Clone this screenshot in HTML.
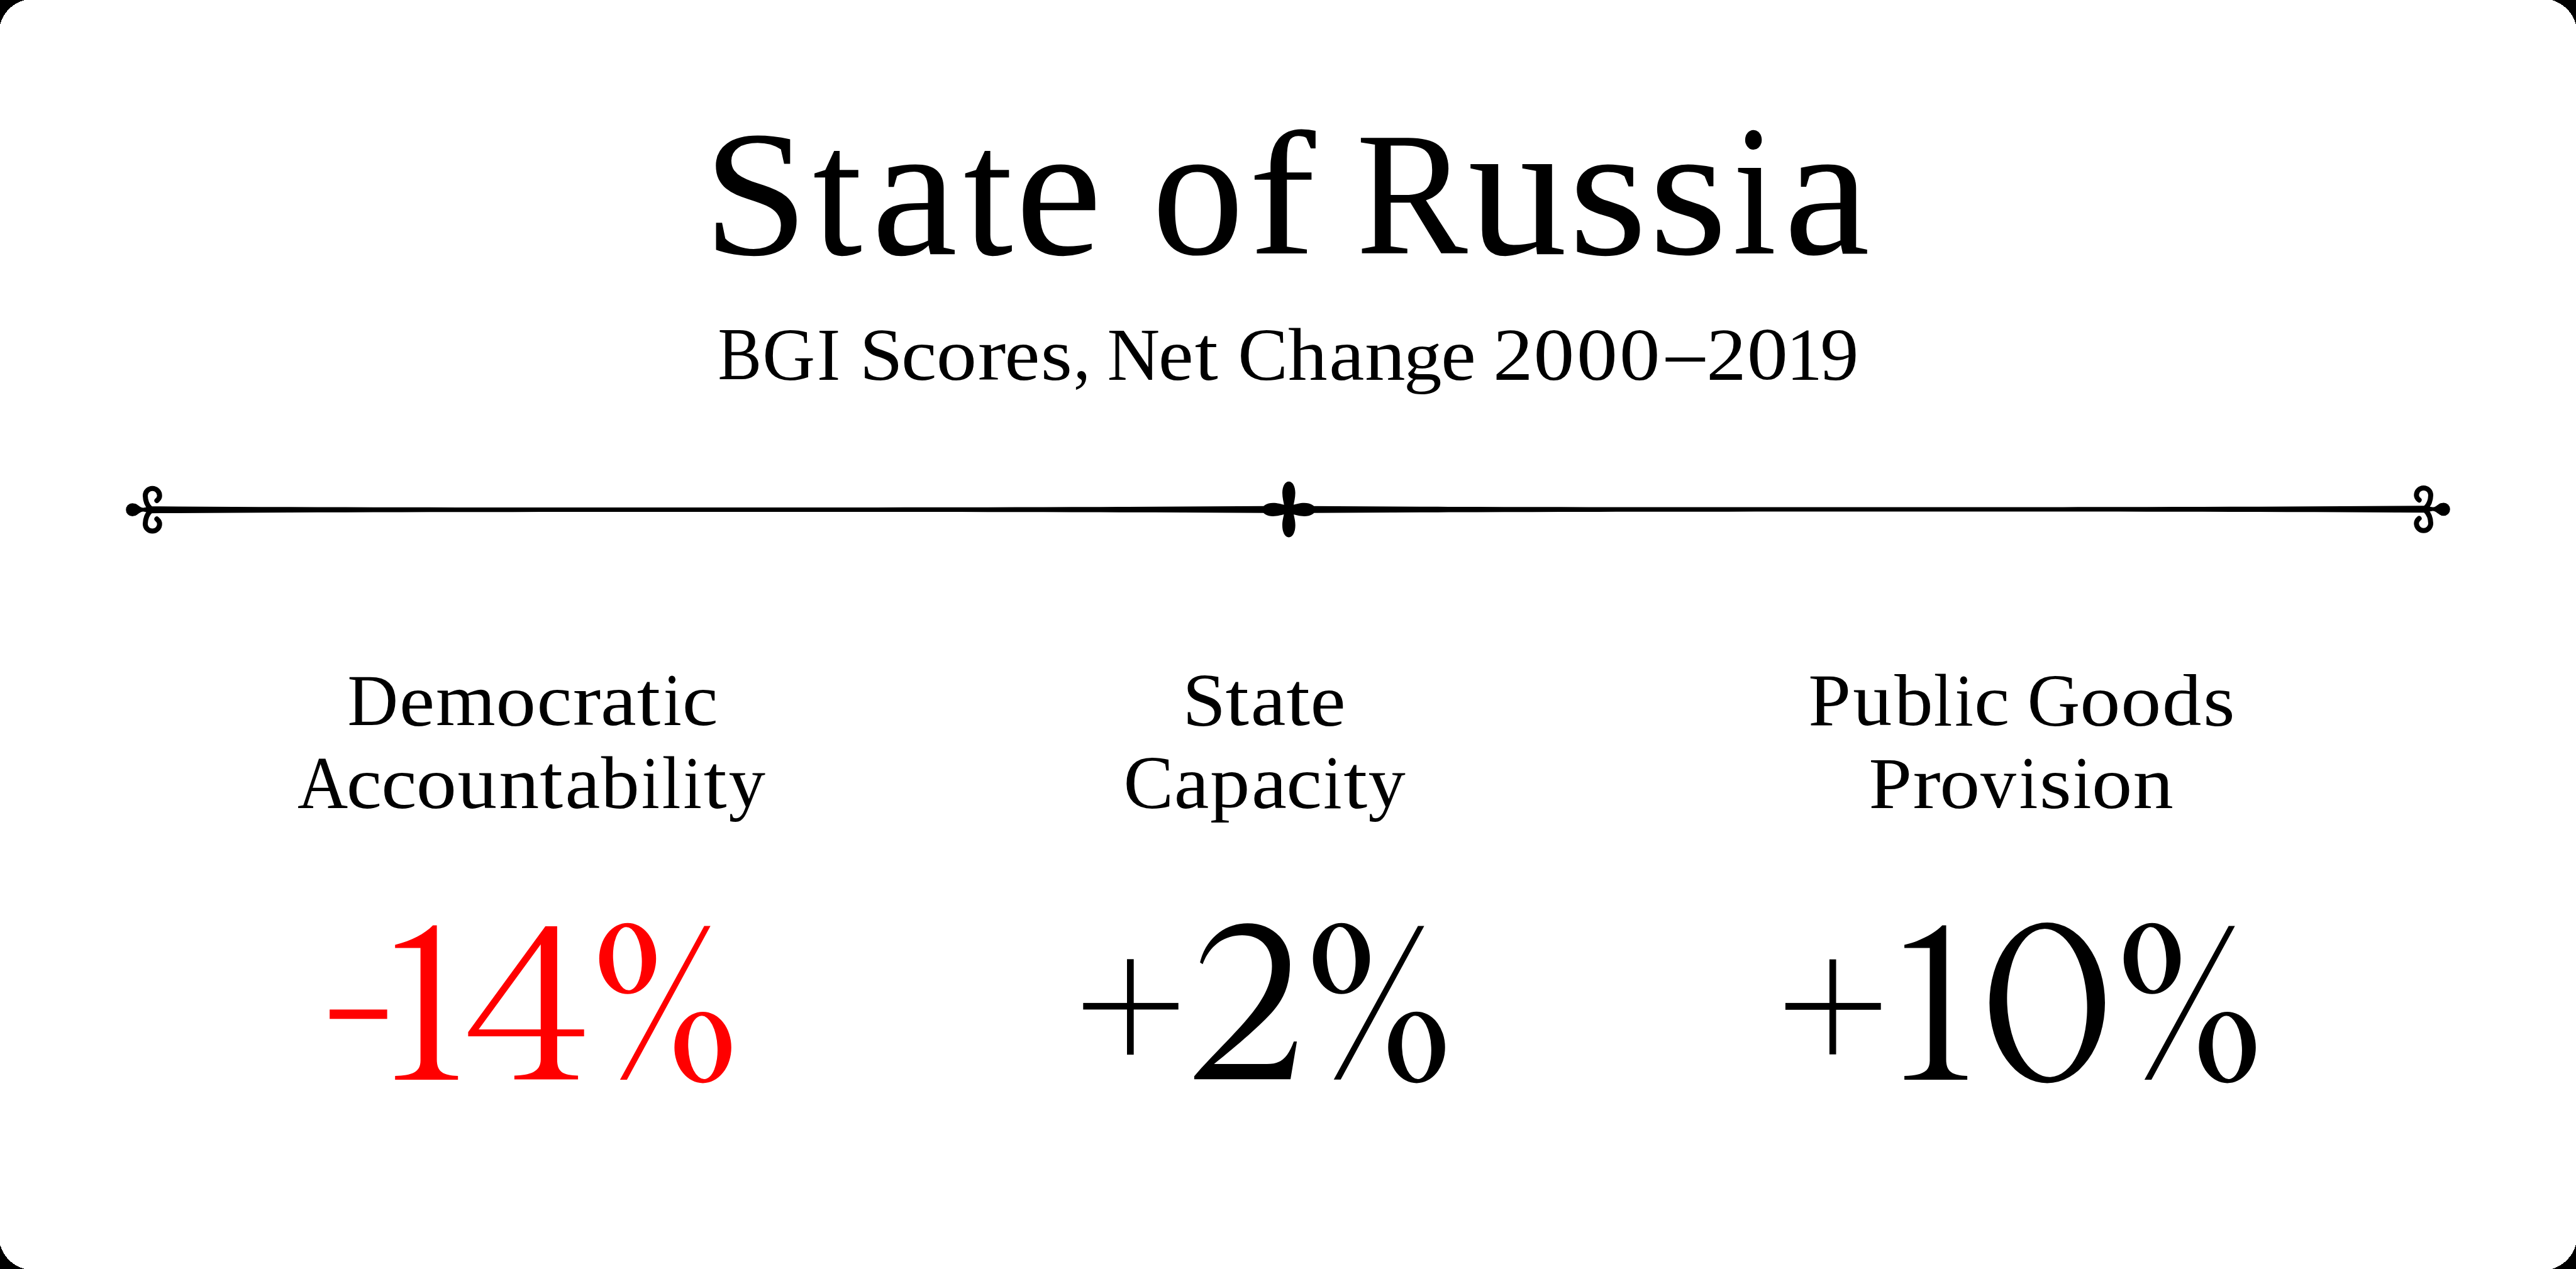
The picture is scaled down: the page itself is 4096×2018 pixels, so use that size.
<!DOCTYPE html>
<html><head><meta charset="utf-8">
<style>
html,body{margin:0;padding:0;width:4096px;height:2018px;overflow:hidden;background:#000;}
svg{display:block;}
text{font-family:"Liberation Serif",serif;white-space:pre;}
</style></head>
<body>
<svg width="4096" height="2018" viewBox="0 0 4096 2018">
<path fill="#fff" shape-rendering="crispEdges" d="M39 0 L4057 0 A55.4 55.4 0 0 1 4096 39 L4096 1979 A55.4 55.4 0 0 1 4057 2018 L39 2018 A55.4 55.4 0 0 1 0 1979 L0 39 A55.4 55.4 0 0 1 39 0 Z"/>

<text transform="translate(1141.61 603.46) scale(0.88232 0.99895)" font-size="118" fill="#000">B</text>
<text transform="translate(1212.26 603.94) scale(0.98345 1.01336)" font-size="118" fill="#000">G</text>
<text transform="translate(1298.97 603.80) scale(0.94953 1.00342)" font-size="118" fill="#000">I</text>
<text transform="translate(1366.63 603.94) scale(1.05176 1.01336)" font-size="118" fill="#000">S</text>
<text transform="translate(1432.99 603.64) scale(1.07574 1.00686)" font-size="118" fill="#000">c</text>
<text transform="translate(1488.72 604.04) scale(1.09037 1.01217)" font-size="118" fill="#000">o</text>
<text transform="translate(1554.63 603.40) scale(1.13587 1.00063)" font-size="118" fill="#000">r</text>
<text transform="translate(1597.60 604.04) scale(1.06694 1.01217)" font-size="118" fill="#000">e</text>
<text transform="translate(1654.72 604.04) scale(1.09652 1.01217)" font-size="118" fill="#000">s</text>
<text transform="translate(1706.78 601.83) scale(0.92006 0.97753)" font-size="118" fill="#000">,</text>
<text transform="translate(1760.57 604.30) scale(0.98257 1.00991)" font-size="118" fill="#000">N</text>
<text transform="translate(1841.70 604.04) scale(1.06694 1.01217)" font-size="118" fill="#000">e</text>
<text transform="translate(1899.80 604.01) scale(1.12953 1.03568)" font-size="118" fill="#000">t</text>
<text transform="translate(1968.32 603.94) scale(1.01239 1.01336)" font-size="118" fill="#000">C</text>
<text transform="translate(2048.08 603.80) scale(1.06149 1.00335)" font-size="118" fill="#000">h</text>
<text transform="translate(2113.18 603.64) scale(1.07078 1.01096)" font-size="118" fill="#000">a</text>
<text transform="translate(2170.04 603.80) scale(1.09627 1.00966)" font-size="118" fill="#000">n</text>
<text transform="translate(2232.02 603.65) scale(1.02597 0.92461)" font-size="118" fill="#000">g</text>
<text transform="translate(2291.33 603.64) scale(1.06004 1.00686)" font-size="118" fill="#000">e</text>
<text transform="translate(2373.93 603.50) scale(1.07848 1.00260)" font-size="118" fill="#000">2</text>
<text transform="translate(2438.48 603.75) scale(1.09840 1.00139)" font-size="118" fill="#000">0</text>
<text transform="translate(2506.88 603.75) scale(1.10041 1.00139)" font-size="118" fill="#000">0</text>
<text transform="translate(2575.00 603.75) scale(1.09438 1.00139)" font-size="118" fill="#000">0</text>
<text transform="translate(2649.13 601.53) scale(1.03551 1.09363)" font-size="118" fill="#000">–</text>
<text transform="translate(2713.34 603.60) scale(1.07636 1.00903)" font-size="118" fill="#000">2</text>
<text transform="translate(2777.76 603.45) scale(1.10442 1.00265)" font-size="118" fill="#000">0</text>
<text transform="translate(2840.46 603.60) scale(0.97181 1.00170)" font-size="118" fill="#000">1</text>
<text transform="translate(2894.37 603.64) scale(1.03701 1.00956)" font-size="118" fill="#000">9</text>
<text transform="translate(552.50 1152.97) scale(0.94574 0.99266)" font-size="118" fill="#000">D</text>
<text transform="translate(634.98 1153.55) scale(1.07154 0.99978)" font-size="118" fill="#000">e</text>
<text transform="translate(693.05 1153.20) scale(1.03224 0.99702)" font-size="118" fill="#000">m</text>
<text transform="translate(788.38 1153.64) scale(1.07631 1.01217)" font-size="118" fill="#000">o</text>
<text transform="translate(853.53 1153.34) scale(1.06667 1.00686)" font-size="118" fill="#000">c</text>
<text transform="translate(910.63 1153.10) scale(1.13308 0.99341)" font-size="118" fill="#000">r</text>
<text transform="translate(955.02 1153.34) scale(1.08371 1.01096)" font-size="118" fill="#000">a</text>
<text transform="translate(1012.79 1153.32) scale(1.14251 1.03123)" font-size="118" fill="#000">t</text>
<text transform="translate(1054.72 1153.10) scale(0.88402 1.01160)" font-size="118" fill="#000">i</text>
<text transform="translate(1084.64 1153.34) scale(1.08709 1.00686)" font-size="118" fill="#000">c</text>
<text transform="translate(473.02 1284.80) scale(0.94150 1.00556)" font-size="118" fill="#000">A</text>
<text transform="translate(550.70 1284.95) scale(1.07348 1.00155)" font-size="118" fill="#000">c</text>
<text transform="translate(606.29 1284.95) scale(1.07574 1.00155)" font-size="118" fill="#000">c</text>
<text transform="translate(661.83 1284.95) scale(1.08836 1.00155)" font-size="118" fill="#000">o</text>
<text transform="translate(727.56 1284.63) scale(1.06173 1.02218)" font-size="118" fill="#000">u</text>
<text transform="translate(793.17 1284.70) scale(1.08522 1.00244)" font-size="118" fill="#000">n</text>
<text transform="translate(858.31 1285.22) scale(1.12628 1.03271)" font-size="118" fill="#000">t</text>
<text transform="translate(898.49 1285.23) scale(1.06647 1.01629)" font-size="118" fill="#000">a</text>
<text transform="translate(955.80 1285.25) scale(1.03178 1.00636)" font-size="118" fill="#000">b</text>
<text transform="translate(1019.93 1284.70) scale(0.88044 1.01031)" font-size="118" fill="#000">i</text>
<text transform="translate(1052.77 1284.70) scale(0.90549 0.99967)" font-size="118" fill="#000">l</text>
<text transform="translate(1086.48 1284.70) scale(0.89833 1.01031)" font-size="118" fill="#000">i</text>
<text transform="translate(1118.81 1285.22) scale(1.12628 1.03271)" font-size="118" fill="#000">t</text>
<text transform="translate(1158.48 1283.41) scale(0.99197 0.97365)" font-size="118" fill="#000">y</text>
<text transform="translate(1880.25 1153.83) scale(1.04977 1.01589)" font-size="118" fill="#000">S</text>
<text transform="translate(1948.39 1153.32) scale(1.14251 1.03123)" font-size="118" fill="#000">t</text>
<text transform="translate(1988.81 1153.35) scale(1.06216 1.00563)" font-size="118" fill="#000">a</text>
<text transform="translate(2045.28 1153.32) scale(1.15225 1.03123)" font-size="118" fill="#000">t</text>
<text transform="translate(2083.38 1153.55) scale(1.07154 1.00509)" font-size="118" fill="#000">e</text>
<text transform="translate(1786.43 1285.23) scale(1.01090 1.01716)" font-size="118" fill="#000">C</text>
<text transform="translate(1866.71 1284.93) scale(1.06216 1.01629)" font-size="118" fill="#000">a</text>
<text transform="translate(1924.06 1283.31) scale(1.07525 0.98284)" font-size="118" fill="#000">p</text>
<text transform="translate(1989.89 1284.93) scale(1.06862 1.01629)" font-size="118" fill="#000">a</text>
<text transform="translate(2045.36 1285.23) scale(1.08255 1.01747)" font-size="118" fill="#000">c</text>
<text transform="translate(2104.19 1285.20) scale(0.89475 1.01674)" font-size="118" fill="#000">i</text>
<text transform="translate(2136.37 1284.92) scale(1.15874 1.02974)" font-size="118" fill="#000">t</text>
<text transform="translate(2175.56 1283.11) scale(1.00428 0.97743)" font-size="118" fill="#000">y</text>
<text transform="translate(2875.20 1153.50) scale(1.03391 0.99822)" font-size="118" fill="#000">P</text>
<text transform="translate(2946.27 1153.03) scale(1.05267 1.02037)" font-size="118" fill="#000">u</text>
<text transform="translate(3012.20 1153.06) scale(1.03915 0.99184)" font-size="118" fill="#000">b</text>
<text transform="translate(3074.78 1153.50) scale(0.90191 0.99721)" font-size="118" fill="#000">l</text>
<text transform="translate(3108.37 1153.50) scale(0.90191 1.01288)" font-size="118" fill="#000">i</text>
<text transform="translate(3139.09 1153.06) scale(1.07574 0.99447)" font-size="118" fill="#000">c</text>
<text transform="translate(3223.45 1153.64) scale(0.98476 1.01336)" font-size="118" fill="#000">G</text>
<text transform="translate(3307.23 1153.65) scale(1.08836 1.00509)" font-size="118" fill="#000">o</text>
<text transform="translate(3372.24 1153.65) scale(1.08635 1.00509)" font-size="118" fill="#000">o</text>
<text transform="translate(3437.91 1153.26) scale(1.05709 0.99547)" font-size="118" fill="#000">d</text>
<text transform="translate(3503.08 1153.65) scale(1.10470 1.00509)" font-size="118" fill="#000">s</text>
<text transform="translate(2971.56 1284.70) scale(1.04439 0.99432)" font-size="118" fill="#000">P</text>
<text transform="translate(3041.55 1284.70) scale(1.12468 0.99702)" font-size="118" fill="#000">r</text>
<text transform="translate(3084.35 1284.66) scale(1.08434 0.99624)" font-size="118" fill="#000">o</text>
<text transform="translate(3149.00 1284.17) scale(0.96511 0.98769)" font-size="118" fill="#000">v</text>
<text transform="translate(3210.87 1284.70) scale(0.90191 1.00774)" font-size="118" fill="#000">i</text>
<text transform="translate(3242.64 1284.66) scale(1.11289 0.99624)" font-size="118" fill="#000">s</text>
<text transform="translate(3295.89 1284.70) scale(0.89475 1.00774)" font-size="118" fill="#000">i</text>
<text transform="translate(3326.02 1284.66) scale(1.09037 0.99624)" font-size="118" fill="#000">o</text>
<text transform="translate(3391.56 1284.70) scale(1.09074 0.99702)" font-size="118" fill="#000">n</text>
<text transform="translate(1118.21 404.42) scale(1.03908 0.98675)" font-size="289" fill="#000">S</text>
<text transform="translate(1292.34 404.35) scale(0.97918 1.01072)" font-size="289" fill="#000">t</text>
<text transform="translate(1385.90 404.23) scale(1.06254 1.05178)" font-size="289" fill="#000">a</text>
<text transform="translate(1531.94 404.35) scale(0.97918 1.01072)" font-size="289" fill="#000">t</text>
<text transform="translate(1614.48 404.24) scale(1.07326 1.04751)" font-size="289" fill="#000">e</text>
<text transform="translate(1831.55 403.66) scale(1.01317 1.04319)" font-size="289" fill="#000">o</text>
<text transform="translate(1985.04 402.90) scale(1.10934 0.97059)" font-size="289" fill="#000">f</text>
<text transform="translate(2156.23 402.70) scale(0.92114 0.96918)" font-size="289" fill="#000">R</text>
<text transform="translate(2334.05 404.15) scale(1.08949 1.07922)" font-size="289" fill="#000">u</text>
<text transform="translate(2494.13 404.24) scale(1.11122 1.04751)" font-size="289" fill="#000">s</text>
<text transform="translate(2621.73 403.56) scale(1.11122 1.04247)" font-size="289" fill="#000">s</text>
<text transform="translate(2755.16 402.90) scale(0.86289 1.02535)" font-size="289" fill="#000">i</text>
<text transform="translate(2836.60 403.55) scale(1.06341 1.04672)" font-size="289" fill="#000">a</text>
<rect x="524.2" y="1605.4" width="91.4" height="14.9" fill="#ff0000"/>
<path fill="#ff0000" d="M 688.40 1471.60 L 694.60 1471.60 L 694.60 1684.50 C 694.60 1705.00 705.10 1710.00 728.20 1711.00 L 728.20 1717.00 L 628.20 1717.00 L 628.20 1711.00 C 655.10 1710.00 668.60 1705.00 668.60 1686.70 L 668.60 1507.50 L 628.20 1507.50 L 628.20 1502.40 C 655.10 1496.00 675.10 1485.00 688.40 1471.60 Z"/>
<path fill="#ff0000" fill-rule="evenodd" d="M 867.20 1472.90 L 885.90 1472.90 L 885.90 1637.00 L 928.70 1637.00 L 928.70 1647.90 L 885.90 1647.90 L 885.90 1684.40 C 885.90 1705.00 895.00 1709.50 919.10 1710.50 L 919.10 1716.40 L 817.90 1716.40 L 817.90 1710.50 C 842.00 1709.50 859.80 1705.00 859.80 1684.40 L 859.80 1647.90 L 744.40 1647.90 L 744.40 1641.20 Z M 859.80 1501.80 L 859.80 1637.00 L 761.10 1637.00 Z"/>
<path fill="#ff0000" fill-rule="evenodd" d="M952.80 1524.30 A45.2 56.5 0 1 0 1043.20 1524.30 A45.2 56.5 0 1 0 952.80 1524.30ZM974.93 1525.61 A22.8 49.6 -2.8 1 1 1020.47 1523.39 A22.8 49.6 -2.8 1 1 974.93 1525.61ZM1072.40 1665.70 A45.2 56.7 0 1 0 1162.80 1665.70 A45.2 56.7 0 1 0 1072.40 1665.70ZM1094.43 1666.83 A23.2 49.65 -2.8 1 1 1140.77 1664.57 A23.2 49.65 -2.8 1 1 1094.43 1666.83ZM1119.80 1472.60 L1129.70 1472.60 L996.90 1716.90 L985.90 1716.90Z"/>
<rect x="1722.3" y="1594.9" width="151.4" height="10.5"/><rect x="1792" y="1525.3" width="10.7" height="151.9"/>
<path d="M 1908.10 1530.50 C 1918.00 1490.00 1950.00 1468.20 1983.60 1468.20 C 2023.00 1468.20 2051.00 1495.00 2051.00 1533.70 C 2051.00 1565.00 2042.00 1587.00 2025.00 1607.00 C 2005.00 1630.00 1970.00 1660.00 1930.40 1692.10 L 2014.40 1692.10 C 2038.00 1692.10 2048.00 1681.00 2057.20 1656.20 L 2062.10 1656.20 L 2052.00 1716.30 L 1898.90 1716.30 L 1898.90 1711.50 C 1958.90 1642.50 2022.50 1596.20 2022.50 1536.20 C 2022.50 1507.00 2005.00 1487.30 1975.00 1487.30 C 1945.00 1487.30 1923.00 1505.00 1912.30 1533.20 Z"/>
<path fill-rule="evenodd" d="M2087.70 1524.20 A45.2 56.5 0 1 0 2178.10 1524.20 A45.2 56.5 0 1 0 2087.70 1524.20ZM2109.83 1525.51 A22.8 49.6 -2.8 1 1 2155.37 1523.29 A22.8 49.6 -2.8 1 1 2109.83 1525.51ZM2207.30 1665.60 A45.2 56.7 0 1 0 2297.70 1665.60 A45.2 56.7 0 1 0 2207.30 1665.60ZM2229.33 1666.73 A23.2 49.65 -2.8 1 1 2275.67 1664.47 A23.2 49.65 -2.8 1 1 2229.33 1666.73ZM2254.70 1472.50 L2264.60 1472.50 L2131.80 1716.80 L2120.80 1716.80Z"/>
<rect x="2838.9" y="1594.9" width="151.8" height="10.9"/><rect x="2908.9" y="1525.6" width="10.6" height="151.1"/>
<path d="M 3088.30 1471.60 L 3094.50 1471.60 L 3094.50 1684.50 C 3094.50 1705.00 3105.00 1710.00 3128.10 1711.00 L 3128.10 1717.00 L 3028.10 1717.00 L 3028.10 1711.00 C 3055.00 1710.00 3068.50 1705.00 3068.50 1686.70 L 3068.50 1507.50 L 3028.10 1507.50 L 3028.10 1502.40 C 3055.00 1496.00 3075.00 1485.00 3088.30 1471.60 Z"/>
<path fill-rule="evenodd" d="M3163.40 1594.80 A91.8 127.7 0 1 0 3347.00 1594.80 A91.8 127.7 0 1 0 3163.40 1594.80ZM3191.57 1597.89 A63.5 117.9 -2.7 1 1 3318.43 1591.91 A63.5 117.9 -2.7 1 1 3191.57 1597.89Z"/>
<path fill-rule="evenodd" d="M3376.80 1524.30 A45.2 56.5 0 1 0 3467.20 1524.30 A45.2 56.5 0 1 0 3376.80 1524.30ZM3398.93 1525.61 A22.8 49.6 -2.8 1 1 3444.47 1523.39 A22.8 49.6 -2.8 1 1 3398.93 1525.61ZM3496.40 1665.70 A45.2 56.7 0 1 0 3586.80 1665.70 A45.2 56.7 0 1 0 3496.40 1665.70ZM3518.43 1666.83 A23.2 49.65 -2.8 1 1 3564.77 1664.57 A23.2 49.65 -2.8 1 1 3518.43 1666.83ZM3543.80 1472.60 L3553.70 1472.60 L3420.90 1716.90 L3409.90 1716.90Z"/>
<g fill="#000">
<path d="M238.0 805.20 L282.4 805.48 L326.9 805.72 L371.3 805.94 L415.7 806.14 L460.1 806.31 L504.6 806.45 L549.0 806.58 L593.4 806.69 L637.8 806.78 L682.2 806.85 L726.7 806.91 L771.1 806.95 L815.5 806.98 L860.0 807.01 L904.4 807.02 L948.8 807.02 L993.2 807.02 L1037.7 807.02 L1082.1 807.01 L1126.5 807.00 L1170.9 806.99 L1215.3 806.98 L1259.8 806.96 L1304.2 806.94 L1348.6 806.92 L1393.0 806.89 L1437.5 806.84 L1481.9 806.79 L1526.3 806.73 L1570.8 806.65 L1615.2 806.56 L1659.6 806.45 L1704.0 806.32 L1748.5 806.17 L1792.9 806.01 L1837.3 805.82 L1881.7 805.60 L1926.2 805.36 L1970.6 805.10 L2015.0 804.80 L2015.0 815.80 L1970.6 815.52 L1926.2 815.28 L1881.7 815.06 L1837.3 814.86 L1792.9 814.69 L1748.5 814.55 L1704.0 814.42 L1659.6 814.31 L1615.2 814.22 L1570.8 814.15 L1526.3 814.09 L1481.9 814.05 L1437.5 814.02 L1393.0 813.99 L1348.6 813.98 L1304.2 813.98 L1259.8 813.98 L1215.3 813.98 L1170.9 813.99 L1126.5 814.00 L1082.1 814.01 L1037.7 814.02 L993.2 814.04 L948.8 814.06 L904.4 814.08 L860.0 814.11 L815.5 814.16 L771.1 814.21 L726.7 814.27 L682.2 814.35 L637.8 814.44 L593.4 814.55 L549.0 814.68 L504.6 814.83 L460.1 814.99 L415.7 815.18 L371.3 815.40 L326.9 815.64 L282.4 815.90 L238.0 816.20Z"/>
<path d="M238.0 804.30 L282.4 804.60 L326.9 804.87 L371.3 805.11 L415.7 805.33 L460.1 805.52 L504.6 805.69 L549.0 805.84 L593.4 805.97 L637.8 806.08 L682.2 806.18 L726.7 806.26 L771.1 806.32 L815.5 806.38 L860.0 806.42 L904.4 806.46 L948.8 806.48 L993.2 806.51 L1037.7 806.52 L1082.1 806.54 L1126.5 806.55 L1170.9 806.56 L1215.3 806.57 L1259.8 806.58 L1304.2 806.58 L1348.6 806.58 L1393.0 806.57 L1437.5 806.55 L1481.9 806.52 L1526.3 806.48 L1570.8 806.42 L1615.2 806.35 L1659.6 806.27 L1704.0 806.16 L1748.5 806.04 L1792.9 805.89 L1837.3 805.73 L1881.7 805.53 L1926.2 805.32 L1970.6 805.07 L2015.0 804.80 L2015.0 815.80 L1970.6 815.50 L1926.2 815.23 L1881.7 814.99 L1837.3 814.77 L1792.9 814.58 L1748.5 814.41 L1704.0 814.26 L1659.6 814.13 L1615.2 814.02 L1570.8 813.92 L1526.3 813.84 L1481.9 813.78 L1437.5 813.72 L1393.0 813.68 L1348.6 813.64 L1304.2 813.62 L1259.8 813.59 L1215.3 813.58 L1170.9 813.56 L1126.5 813.55 L1082.1 813.54 L1037.7 813.53 L993.2 813.52 L948.8 813.52 L904.4 813.52 L860.0 813.53 L815.5 813.55 L771.1 813.58 L726.7 813.62 L682.2 813.68 L637.8 813.75 L593.4 813.83 L549.0 813.94 L504.6 814.06 L460.1 814.21 L415.7 814.37 L371.3 814.57 L326.9 814.78 L282.4 815.03 L238.0 815.30Z" transform="translate(4096 0) scale(-1 1)"/>
<g><circle cx="210.6" cy="810.7" r="10.4"/><path d="M214 800.8 C219 801.6 222 807.3 228 807.5 L233 806.6 L238 805.3 L238 815.7 L233 814.4 L228 813.5 C222 813.7 219 819.4 214 820.2 Z"/><path d="M239 808.5 C233.8 803.5 231.2 797 230.95 788.2 C230.95 781.9 236.05 776.8 242.35 776.8 C248.65 776.8 253.75 781.9 253.75 788.2 C253.75 791.5 252 794 249.4 796.1" fill="none" stroke="#000" stroke-width="8.0" stroke-linecap="round"/><path d="M239 808.5 C233.8 803.5 231.2 797 230.95 788.2 C230.95 781.9 236.05 776.8 242.35 776.8 C248.65 776.8 253.75 781.9 253.75 788.2 C253.75 791.5 252 794 249.4 796.1" fill="none" stroke="#000" stroke-width="8.0" stroke-linecap="round" transform="translate(0 1621.4) scale(1 -1)"/></g>
<g transform="translate(4096 -0.9) scale(-1 1)"><circle cx="210.6" cy="810.7" r="10.4"/><path d="M214 800.8 C219 801.6 222 807.3 228 807.5 L233 806.6 L238 805.3 L238 815.7 L233 814.4 L228 813.5 C222 813.7 219 819.4 214 820.2 Z"/><path d="M239 808.5 C233.8 803.5 231.2 797 230.95 788.2 C230.95 781.9 236.05 776.8 242.35 776.8 C248.65 776.8 253.75 781.9 253.75 788.2 C253.75 791.5 252 794 249.4 796.1" fill="none" stroke="#000" stroke-width="8.0" stroke-linecap="round"/><path d="M239 808.5 C233.8 803.5 231.2 797 230.95 788.2 C230.95 781.9 236.05 776.8 242.35 776.8 C248.65 776.8 253.75 781.9 253.75 788.2 C253.75 791.5 252 794 249.4 796.1" fill="none" stroke="#000" stroke-width="8.0" stroke-linecap="round" transform="translate(0 1621.4) scale(1 -1)"/></g>
<g transform="translate(2049.3 810.3)">
<path d="M-7.3 0 L-7.3 -6 C-8.3 -12 -10.3 -18.5 -10.3 -26.5 C-10.3 -36.45 -6.18 -44.6 0 -44.6 C6.18 -44.6 10.3 -36.45 10.3 -26.5 C10.3 -18.5 8.3 -12 7.3 -6 L7.3 0Z"/>
<path d="M-7.5 0 L-7.5 -6 C-8.5 -12 -10.35 -17.3 -10.35 -25.3 C-10.35 -35.75 -6.21 -44.3 0 -44.3 C6.21 -44.3 10.35 -35.75 10.35 -25.3 C10.35 -17.3 8.5 -12 7.5 -6 L7.5 0Z" transform="scale(1 -1)"/>
<path d="M-7.45 0 L-7.45 -6 C-8.45 -12 -10.65 -17.2 -10.65 -25.2 C-10.65 -34.60 -6.39 -42.3 0 -42.3 C6.39 -42.3 10.65 -34.60 10.65 -25.2 C10.65 -17.2 8.45 -12 7.45 -6 L7.45 0Z" transform="rotate(-90)"/>
<path d="M-7.45 0 L-7.45 -6 C-8.45 -12 -10.65 -16.7 -10.65 -24.7 C-10.65 -34.38 -6.39 -42.3 0 -42.3 C6.39 -42.3 10.65 -34.38 10.65 -24.7 C10.65 -16.7 8.45 -12 7.45 -6 L7.45 0Z" transform="rotate(90)"/>
</g>
</g>
</svg>
</body></html>
